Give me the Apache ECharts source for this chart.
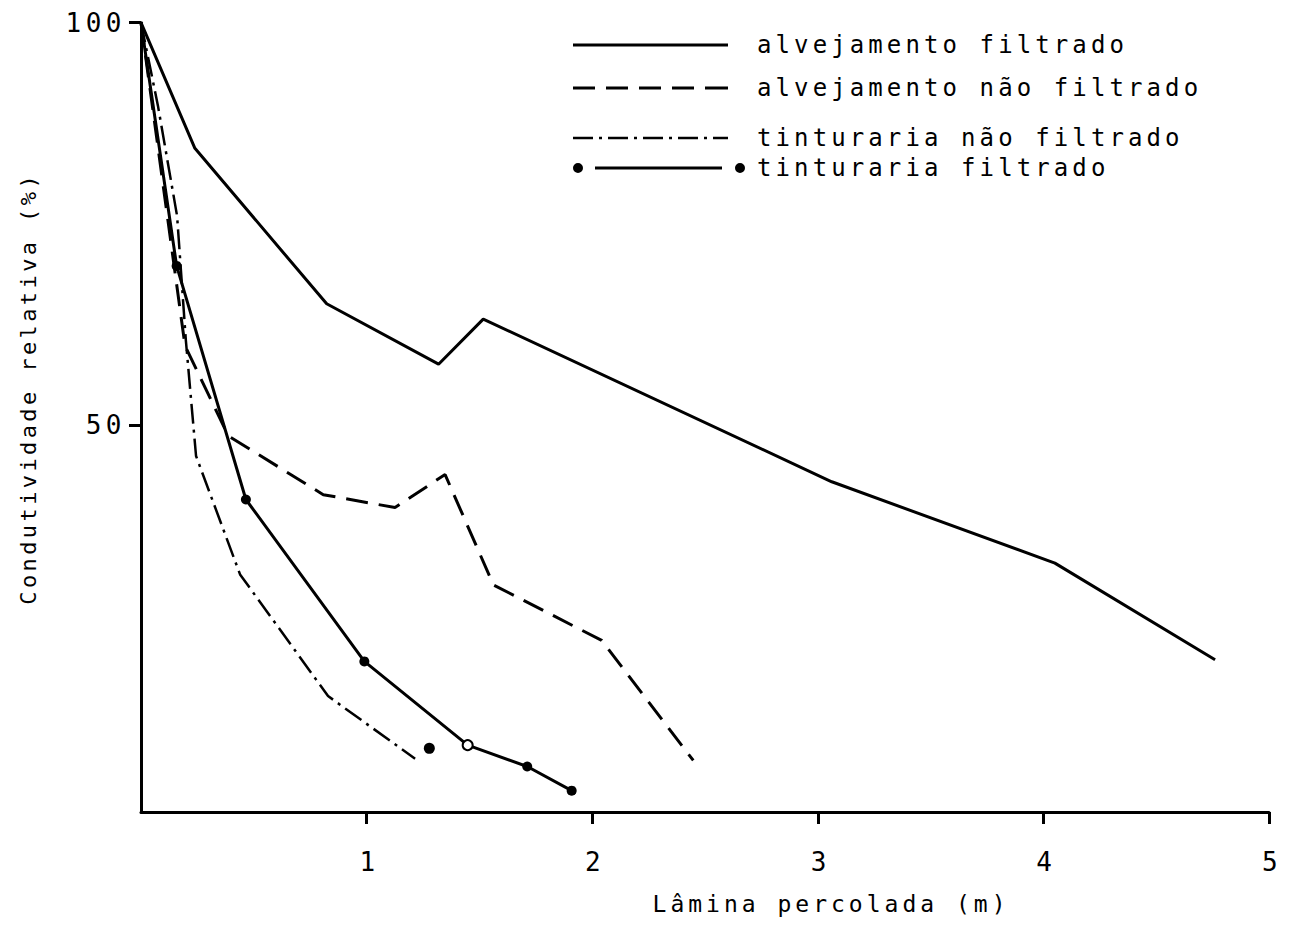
<!DOCTYPE html>
<html>
<head>
<meta charset="utf-8">
<script src="https://cdn.jsdelivr.net/npm/echarts@6/dist/echarts.min.js"></script>
<style>
  html, body { margin: 0; padding: 0; background: #ffffff; }
  #chart { width: 1299px; height: 951px; }
  /* typewriter-like spacing for the different text sizes */
  #chart text[style*="26px"] { letter-spacing: 4.5px; }
  #chart text[style*="24px"] { letter-spacing: 4.1px; }
  #chart text[style*="23px"] { letter-spacing: 4px; }
  #chart text[style*="22px"] { letter-spacing: 3.4px; }
</style>
</head>
<body>
<div id="chart"></div>
<script>
// Lâmina percolada (m) against condutividade relativa (%)
const alvFiltradoX = [0, 0.239, 0.823, 1.319, 1.517, 3.062, 4.051, 4.761];
const alvFiltradoY = [100, 84.4, 65.1, 57.6, 63.2, 43.0, 32.9, 20.9];

const alvNaoFiltradoX = [0, 0.195, 0.387, 0.808, 1.126, 1.348, 1.562, 2.042, 2.448];
const alvNaoFiltradoY = [100, 59.9, 48.7, 41.4, 39.8, 43.9, 30.2, 23.3, 8.4];

const tintNaoFiltradoX = [0, 0.075, 0.160, 0.199, 0.244, 0.439, 0.829, 1.215];
const tintNaoFiltradoY = [100, 89.7, 76.0, 60.5, 46.2, 31.5, 16.4, 8.6];

const tintFiltradoX = [0, 0.158, 0.465, 0.990, 1.448, 1.712, 1.909];
const tintFiltradoY = [100, 69.8, 40.8, 20.7, 10.3, 7.65, 4.65];
// isolated plotted point of the same test
const tintFiltradoAvulsoX = [1.278];
const tintFiltradoAvulsoY = [9.9];

const xTicks = [1, 2, 3, 4, 5];
const yTicks = [50, 100];

const seriesNames = [
  'alvejamento filtrado',
  'alvejamento não filtrado',
  'tinturaria não filtrado',
  'tinturaria filtrado'
];

const FONT = '"DejaVu Sans Mono", "Liberation Mono", monospace';
const INK = '#000000';

function pairs(xs, ys) {
  return xs.map((x, i) => [x, ys[i]]);
}

const tintFiltradoData = pairs(tintFiltradoX, tintFiltradoY).map((p, i) => {
  if (i === 0) return { value: p, symbol: 'none' };
  if (i === 4) return { value: p, symbol: 'emptyCircle', symbolSize: 10, itemStyle: { borderWidth: 2.5 } };
  return p;
});

// legend samples, drawn as filled paths at their exact pixel size
const solidIcon = 'path://M0,0L155,0L155,3L0,3Z';
const dashedIcon =
  'path://M0,0L22,0L22,3L0,3Z M33,0L55,0L55,3L33,3Z M66,0L88,0L88,3L66,3Z' +
  'M99,0L121,0L121,3L99,3Z M132,0L155,0L155,3L132,3Z';
const dashDotIcon =
  'path://M0,0L20,0L20,2.5L0,2.5Z M26,0L29,0L29,2.5L26,2.5Z' +
  'M35,0L55,0L55,2.5L35,2.5Z M61,0L64,0L64,2.5L61,2.5Z' +
  'M70,0L90,0L90,2.5L70,2.5Z M96,0L99,0L99,2.5L96,2.5Z' +
  'M105,0L125,0L125,2.5L105,2.5Z M131,0L134,0L134,2.5L131,2.5Z' +
  'M140,0L155,0L155,2.5L140,2.5Z';
const dotLineIcon =
  'path://M0,5a5,5 0 1,0 10,0a5,5 0 1,0 -10,0Z' +
  'M22,3.5L149,3.5L149,6.5L22,6.5Z' +
  'M162,5a5,5 0 1,0 10,0a5,5 0 1,0 -10,0Z';

function legendBox(name, icon, top, w, h, gapLeft) {
  return {
    data: [{ name: name, icon: icon }],
    left: 573,
    top: top,
    orient: 'vertical',
    selectedMode: false,
    itemWidth: w,
    itemHeight: h,
    padding: 0,
    itemStyle: { color: INK, borderWidth: 0 },
    textStyle: { color: INK, fontFamily: FONT, fontSize: 24, padding: [0, 0, 0, gapLeft] }
  };
}

const chart = echarts.init(document.getElementById('chart'), null, { renderer: 'svg' });

chart.setOption({
  animation: false,
  backgroundColor: '#ffffff',
  grid: {
    left: 141,
    right: 30,
    top: 22.7,
    bottom: 139,
    outerBoundsMode: 'none'
  },
  legend: [
    legendBox(seriesNames[0], solidIcon, 33, 155, 3, 24),
    legendBox(seriesNames[1], dashedIcon, 76, 155, 3, 24),
    legendBox(seriesNames[2], dashDotIcon, 126, 155, 2.5, 24),
    legendBox(seriesNames[3], dotLineIcon, 156, 172, 10, 7)
  ],
  xAxis: {
    type: 'value',
    min: 0,
    max: 5,
    interval: 1,
    name: 'Lâmina percolada (m)',
    nameLocation: 'middle',
    nameGap: 80,
    nameTextStyle: { color: INK, fontFamily: FONT, fontSize: 23, padding: [0, 0, 0, 252] },
    axisLine: { lineStyle: { color: INK, width: 3 } },
    axisTick: { customValues: xTicks, length: 12, lineStyle: { color: INK, width: 3 } },
    axisLabel: { customValues: xTicks, margin: 37, color: INK, fontFamily: FONT, fontSize: 26, padding: [0, 0, 0, 6] },
    splitLine: { show: false }
  },
  yAxis: {
    type: 'value',
    min: 2,
    max: 100,
    name: 'Condutividade relativa (%)',
    nameLocation: 'middle',
    nameGap: 102,
    nameTextStyle: { color: INK, fontFamily: FONT, fontSize: 22, padding: [0, 0, 0, 58] },
    axisLine: { show: true, lineStyle: { color: INK, width: 3 } },
    axisTick: { show: true, customValues: yTicks, length: 12, lineStyle: { color: INK, width: 3 } },
    axisLabel: { customValues: yTicks, margin: 15, color: INK, fontFamily: FONT, fontSize: 26 },
    splitLine: { show: false }
  },
  series: [
    {
      name: seriesNames[0],
      type: 'line',
      data: pairs(alvFiltradoX, alvFiltradoY),
      symbol: 'none',
      color: INK,
      lineStyle: { color: INK, width: 3 }
    },
    {
      name: seriesNames[1],
      type: 'line',
      data: pairs(alvNaoFiltradoX, alvNaoFiltradoY),
      symbol: 'none',
      color: INK,
      lineStyle: { color: INK, width: 3, type: [22, 11] }
    },
    {
      name: seriesNames[2],
      type: 'line',
      data: pairs(tintNaoFiltradoX, tintNaoFiltradoY),
      symbol: 'none',
      color: INK,
      lineStyle: { color: INK, width: 2.5, type: [20, 6, 3, 6] }
    },
    {
      name: seriesNames[3],
      type: 'line',
      data: tintFiltradoData,
      symbol: 'circle',
      symbolSize: 10,
      color: INK,
      itemStyle: { color: INK, opacity: 1 },
      lineStyle: { color: INK, width: 3 },
      z: 3
    },
    {
      name: seriesNames[3],
      type: 'scatter',
      data: pairs(tintFiltradoAvulsoX, tintFiltradoAvulsoY),
      symbol: 'circle',
      symbolSize: 11,
      color: INK,
      itemStyle: { color: INK, opacity: 1 }
    }
  ]
});
</script>
</body>
</html>
